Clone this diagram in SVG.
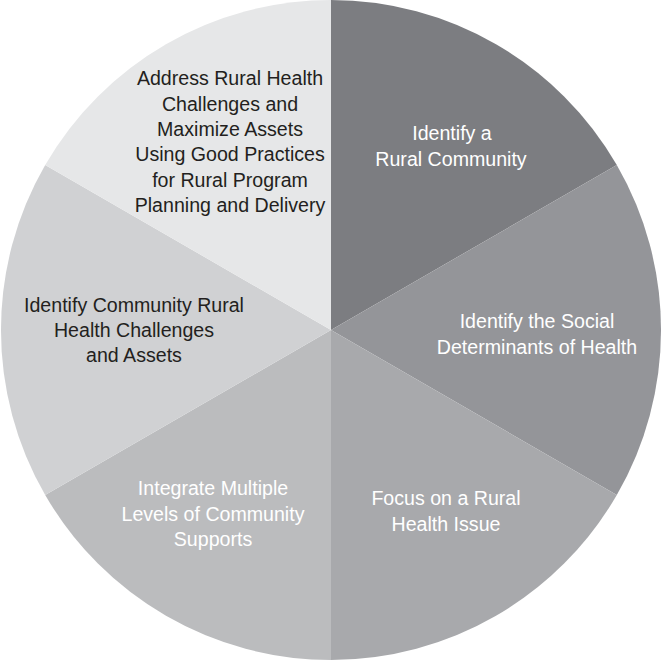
<svg xmlns="http://www.w3.org/2000/svg" width="662" height="660" viewBox="0 0 662 660">
<style>
text{font-family:"Liberation Sans",Arial,Helvetica,sans-serif;font-size:19.6px;text-anchor:middle}
.d{fill:#231f20}
.w{fill:#ffffff}
</style>
<rect width="662" height="660" fill="#ffffff"/>
<g id="s1">
<path d="M331,330 L331,0 A330,330 0 0 1 616.8,165 Z" fill="#7c7d81"/>
<text class="w" x="452" y="140">Identify a</text>
<text class="w" x="451" y="166">Rural Community</text>
</g>
<g id="s2">
<path d="M331,330 L616.8,165 A330,330 0 0 1 616.8,495 Z" fill="#949599"/>
<text class="w" x="537" y="328">Identify the Social</text>
<text class="w" x="537" y="354">Determinants of Health</text>
</g>
<g id="s3">
<path d="M331,330 L616.8,495 A330,330 0 0 1 331,660 Z" fill="#a8a9ac"/>
<text class="w" x="446" y="505">Focus on a Rural</text>
<text class="w" x="446" y="531">Health Issue</text>
</g>
<g id="s4">
<path d="M331,330 L331,660 A330,330 0 0 1 45.2,495 Z" fill="#bbbcbe"/>
<text class="w" x="213" y="495">Integrate Multiple</text>
<text class="w" x="213" y="521">Levels of Community</text>
<text class="w" x="213" y="546">Supports</text>
</g>
<g id="s5">
<path d="M331,330 L45.2,495 A330,330 0 0 1 45.2,165 Z" fill="#d0d1d3"/>
<text class="d" x="134" y="312">Identify Community Rural</text>
<text class="d" x="134" y="337">Health Challenges</text>
<text class="d" x="134" y="362">and Assets</text>
</g>
<g id="s6">
<path d="M331,330 L45.2,165 A330,330 0 0 1 331,0 Z" fill="#e6e7e8"/>
<text class="d" x="230" y="85">Address Rural Health</text>
<text class="d" x="230" y="111">Challenges and</text>
<text class="d" x="230" y="136">Maximize Assets</text>
<text class="d" x="230" y="161">Using Good Practices</text>
<text class="d" x="230" y="187">for Rural Program</text>
<text class="d" x="230" y="212">Planning and Delivery</text>
</g>
<g id="connectors"></g>
</svg>
